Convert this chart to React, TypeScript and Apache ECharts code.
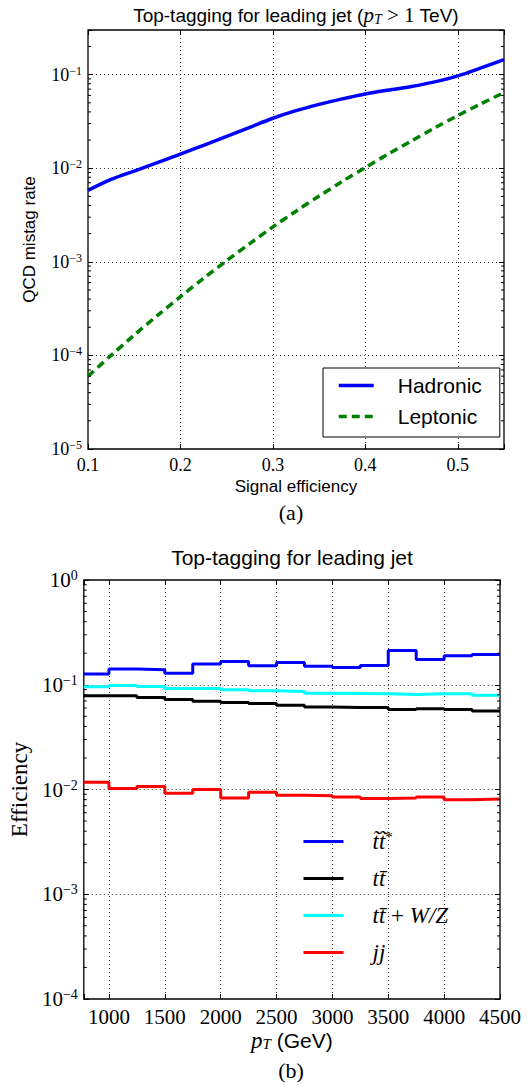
import React, { useEffect, useRef } from 'react';
import * as echarts from 'echarts';

// ---------- Data: panel (a) ----------
const signalEff = [0.1, 0.125, 0.15, 0.175, 0.2, 0.225, 0.25, 0.275, 0.3, 0.325, 0.35, 0.375, 0.4, 0.425, 0.45, 0.475, 0.5, 0.525, 0.55];
const hadronic = [0.0058, 0.00759, 0.00933, 0.01148, 0.01419, 0.01758, 0.02188, 0.02735, 0.0342, 0.0412, 0.0481, 0.0551, 0.0621, 0.0684, 0.0748, 0.0838, 0.0971, 0.118, 0.145];
const leptonic = [0.00006, 0.0001, 0.0001652, 0.0002667, 0.0004246, 0.0006653, 0.00103, 0.001567, 0.00236, 0.003475, 0.005047, 0.007211, 0.01019, 0.01422, 0.01963, 0.02692, 0.03656, 0.04875, 0.06427];

// ---------- Data: panel (b) ----------
const ptEdges = [775, 1000, 1250, 1500, 1750, 2000, 2250, 2500, 2750, 3000, 3250, 3500, 3750, 4000, 4250, 4500];
const stopPair = [0.127, 0.141, 0.139, 0.129, 0.158, 0.167, 0.152, 0.163, 0.15, 0.146, 0.153, 0.212, 0.174, 0.189, 0.194];
const ttbar = [0.0784, 0.0784, 0.0755, 0.0723, 0.0697, 0.0676, 0.0662, 0.0637, 0.0614, 0.0606, 0.0606, 0.058, 0.059, 0.058, 0.0562];
const ttbarWZ = [0.0957, 0.0986, 0.096, 0.092, 0.092, 0.0895, 0.0876, 0.0863, 0.083, 0.0826, 0.082, 0.0808, 0.082, 0.082, 0.0796];
const dijet = [0.0117, 0.0102, 0.0107, 0.0092, 0.01, 0.0083, 0.0094, 0.0088, 0.0087, 0.0085, 0.0082, 0.0083, 0.0085, 0.008, 0.0081];

const legendA = ['Hadronic', 'Leptonic'];
const legendB = ['t\u0303t\u0303*', 'tt\u0304', 'tt\u0304 + W/Z', 'jj'];

// axis ranges
const aXMin = 0.1, aXMax = 0.55, aXStep = 0.1;
const aYMin = 1e-5, aYMax = 0.3;
const bXMin = 775, bXMax = 4500;
const bYMin = 1e-4, bYMax = 1;

// minor tick values (2..9 x 10^k) for the log axes
const minorTicks = (lo: number, hi: number) => {
  const out: number[] = [];
  for (let e = Math.round(Math.log10(lo)); e <= 0; e++) {
    for (let m = 2; m <= 9; m++) {
      const v = m * Math.pow(10, e);
      if (v > lo && v < hi) out.push(v);
    }
  }
  return out;
};
const aMinor = minorTicks(aYMin, aYMax);
const bMinor = minorTicks(bYMin, bYMax);

const SANS = '"Liberation Sans", Arial, Helvetica, sans-serif';
const SERIF = '"Liberation Serif", "Times New Roman", serif';

const stepData = (vals: number[]) => ptEdges.map((e, i) => [e, vals[Math.min(i, vals.length - 1)]]);

const powLabel = (size: number, supSize: number, supLH: number) => ({
  formatter: (v: number) => {
    const e = Math.log10(v);
    const r = Math.round(e);
    if (Math.abs(e - r) > 1e-6) return '';
    return `{b|10}{s|${r < 0 ? '\u2212' + -r : r}}`;
  },
  rich: {
    b: { fontFamily: SERIF, fontSize: size, lineHeight: size + 2, color: '#000' },
    s: { fontFamily: SERIF, fontSize: supSize, lineHeight: supLH, verticalAlign: 'top', color: '#000' },
  },
});

const gridLine = { show: true, showMinLine: false, showMaxLine: false, lineStyle: { color: '#000', width: 0.8, type: [1, 3] } };
const tickInside = { show: true, inside: true, length: 5, lineStyle: { color: '#000', width: 1 } };

const minorSeries = (vals: number[], xv: number, xi: number, yi: number) => ({
  type: 'custom',
  xAxisIndex: xi,
  yAxisIndex: yi,
  silent: true,
  clip: false,
  z: 5,
  data: vals.map((v) => [xv, v]),
  renderItem: (params: any, api: any) => {
    const cs = params.coordSys;
    const y = api.coord([api.value(0), api.value(1)])[1];
    const len = 3;
    const st = { stroke: '#000', lineWidth: 1 };
    return {
      type: 'group',
      children: [
        { type: 'line', shape: { x1: cs.x, y1: y, x2: cs.x + len, y2: y }, style: st },
        { type: 'line', shape: { x1: cs.x + cs.width - len, y1: y, x2: cs.x + cs.width, y2: y }, style: st },
      ],
    };
  },
});

export default function App() {
  const ref = useRef<HTMLDivElement>(null);
  useEffect(() => {
    if (!ref.current) return;
    const chart = echarts.init(ref.current, undefined, { renderer: 'svg' });
    const option: any = {
      animation: false,
      backgroundColor: '#fff',
      grid: [
        { left: 88, top: 30, width: 416, height: 419, show: true, borderColor: '#000', borderWidth: 1.3, backgroundColor: 'transparent' },
        { left: 83, top: 580, width: 417, height: 419, show: true, borderColor: '#000', borderWidth: 1.3, backgroundColor: 'transparent' },
      ],
      xAxis: [
        {
          type: 'value', gridIndex: 0, position: 'bottom', min: aXMin, max: aXMax, interval: aXStep,
          axisLine: { show: false }, axisTick: tickInside, splitLine: gridLine,
          axisLabel: {
            margin: 7, color: '#000', fontFamily: SERIF, fontSize: 18,
            formatter: (v: number) => {
              const r = Math.round(v * 10) / 10;
              return Math.abs(v - r) < 1e-9 && v < 0.54 ? r.toFixed(1) : '';
            },
          },
          name: 'Signal efficiency', nameLocation: 'middle', nameGap: 29,
          nameTextStyle: { fontFamily: SANS, fontSize: 17, color: '#000' },
        },
        {
          type: 'value', gridIndex: 0, position: 'top', min: aXMin, max: aXMax, interval: aXStep,
          axisLine: { show: false }, axisTick: tickInside, splitLine: { show: false }, axisLabel: { show: false },
        },
        {
          type: 'value', gridIndex: 1, position: 'bottom', min: bXMin, max: bXMax, splitNumber: 7,
          axisLine: { show: false }, axisTick: tickInside, splitLine: gridLine,
          axisLabel: {
            margin: 7, color: '#000', fontFamily: SERIF, fontSize: 21,
            formatter: (v: number) => (Math.abs(v % 500) < 1e-6 ? String(v) : ''),
          },
          name: '{m|p}{sub|T}{a| (GeV)}', nameLocation: 'middle', nameGap: 30,
          nameTextStyle: {
            rich: {
              m: { fontFamily: SERIF, fontStyle: 'italic', fontSize: 23, lineHeight: 22, color: '#000' },
              sub: { fontFamily: SERIF, fontStyle: 'italic', fontSize: 15, lineHeight: 14, verticalAlign: 'bottom', color: '#000' },
              a: { fontFamily: SANS, fontSize: 21, lineHeight: 22, color: '#000' },
            },
          },
        },
        {
          type: 'value', gridIndex: 1, position: 'top', min: bXMin, max: bXMax, splitNumber: 7,
          axisLine: { show: false }, axisTick: tickInside, splitLine: { show: false }, axisLabel: { show: false },
        },
      ],
      yAxis: [
        {
          type: 'log', logBase: 10, gridIndex: 0, position: 'left', min: aYMin, max: aYMax,
          axisLine: { show: false }, axisTick: tickInside, splitLine: gridLine,
          axisLabel: { margin: 6, ...powLabel(18, 12, 15) },
          name: 'QCD mistag rate', nameLocation: 'middle', nameGap: 50,
          nameTextStyle: { fontFamily: SANS, fontSize: 17, color: '#000' },
        },
        {
          type: 'log', logBase: 10, gridIndex: 0, position: 'right', min: aYMin, max: aYMax,
          axisLine: { show: false }, axisTick: tickInside, splitLine: { show: false }, axisLabel: { show: false },
        },
        {
          type: 'log', logBase: 10, gridIndex: 1, position: 'left', min: bYMin, max: bYMax,
          axisLine: { show: false }, axisTick: tickInside, splitLine: gridLine,
          axisLabel: { margin: 6, ...powLabel(21, 14, 17) },
          name: 'Efficiency', nameLocation: 'middle', nameGap: 49,
          nameTextStyle: { fontFamily: SERIF, fontSize: 23, color: '#000' },
        },
        {
          type: 'log', logBase: 10, gridIndex: 1, position: 'right', min: bYMin, max: bYMax,
          axisLine: { show: false }, axisTick: tickInside, splitLine: { show: false }, axisLabel: { show: false },
        },
      ],
      legend: [
        {
          data: legendA, orient: 'vertical', left: 323, top: 368,
          padding: [7, 18, 10, 14], itemWidth: 35, itemHeight: 21, itemGap: 10,
          borderColor: '#000', borderWidth: 1, borderRadius: 0, backgroundColor: '#fff',
          lineStyle: { width: 3.5 },
          itemStyle: { opacity: 0 },
          textStyle: { fontFamily: SANS, fontSize: 21, lineHeight: 21, color: '#000', padding: [0, 0, 0, 19] },
          selectedMode: false,
        },
        {
          data: legendB, orient: 'vertical', left: 302, top: 829,
          padding: 0, itemWidth: 40, itemHeight: 25, itemGap: 14,
          lineStyle: { width: 3 },
          itemStyle: { opacity: 0 },
          formatter: (n: string) => (n === legendB[0] ? `{i|t\u0303t\u0303}{s|*}` : n === legendB[2] ? `{i|tt\u0304}{r| + }{i|W/Z}` : `{i|${n}}`),
          textStyle: {
            padding: [0, 0, 0, 24],
            rich: {
              i: { fontFamily: SERIF, fontStyle: 'italic', fontSize: 23, lineHeight: 25, color: '#000' },
              r: { fontFamily: SERIF, fontSize: 23, lineHeight: 25, color: '#000' },
              s: { fontFamily: SERIF, fontSize: 15, lineHeight: 16, verticalAlign: 'top', color: '#000' },
            },
          },
          selectedMode: false,
        },
      ],
      graphic: [
        {
          type: 'text', x: 296, y: 15,
          style: {
            text: '{a|Top-tagging for leading jet (}{m|p}{sub|T}{r| > 1}{a| TeV)}',
            textAlign: 'center', textVerticalAlign: 'middle',
            rich: {
              a: { fontFamily: SANS, fontSize: 19, lineHeight: 22, fill: '#000' },
              m: { fontFamily: SERIF, fontStyle: 'italic', fontSize: 21, lineHeight: 22, fill: '#000' },
              sub: { fontFamily: SERIF, fontStyle: 'italic', fontSize: 14, lineHeight: 14, verticalAlign: 'bottom', fill: '#000' },
              r: { fontFamily: SERIF, fontSize: 21, lineHeight: 22, fill: '#000' },
            },
          },
        },
        {
          type: 'text', x: 292, y: 557,
          style: { text: 'Top-tagging for leading jet', font: `21px ${SANS}`, fill: '#000', textAlign: 'center', textVerticalAlign: 'middle' },
        },
        {
          type: 'text', x: 291, y: 512,
          style: { text: '(a)', font: `22px ${SERIF}`, fill: '#000', textAlign: 'center', textVerticalAlign: 'middle' },
        },
        {
          type: 'text', x: 291, y: 1070,
          style: { text: '(b)', font: `22px ${SERIF}`, fill: '#000', textAlign: 'center', textVerticalAlign: 'middle' },
        },
      ],
      series: [
        {
          type: 'line', name: 'Hadronic', xAxisIndex: 0, yAxisIndex: 0, symbol: 'none', smooth: 0.3,
          data: signalEff.map((x, i) => [x, hadronic[i]]),
          lineStyle: { color: '#0000ff', width: 3.5 }, itemStyle: { color: '#0000ff' }, z: 3,
        },
        {
          type: 'line', name: 'Leptonic', xAxisIndex: 0, yAxisIndex: 0, symbol: 'none', smooth: 0.3,
          data: signalEff.map((x, i) => [x, leptonic[i]]),
          lineStyle: { color: '#008000', width: 3.5, type: [8, 5] }, itemStyle: { color: '#008000' }, z: 3,
        },
        {
          type: 'line', name: legendB[0], xAxisIndex: 2, yAxisIndex: 2, symbol: 'none', step: 'end',
          data: stepData(stopPair), lineStyle: { color: '#0000ff', width: 3 }, itemStyle: { color: '#0000ff' }, z: 3,
        },
        {
          type: 'line', name: legendB[1], xAxisIndex: 2, yAxisIndex: 2, symbol: 'none', step: 'end',
          data: stepData(ttbar), lineStyle: { color: '#000000', width: 3 }, itemStyle: { color: '#000000' }, z: 3,
        },
        {
          type: 'line', name: legendB[2], xAxisIndex: 2, yAxisIndex: 2, symbol: 'none', step: 'end',
          data: stepData(ttbarWZ), lineStyle: { color: '#00ffff', width: 3 }, itemStyle: { color: '#00ffff' }, z: 3,
        },
        {
          type: 'line', name: legendB[3], xAxisIndex: 2, yAxisIndex: 2, symbol: 'none', step: 'end',
          data: stepData(dijet), lineStyle: { color: '#ff0000', width: 3 }, itemStyle: { color: '#ff0000' }, z: 3,
        },
        minorSeries(aMinor, aXMin, 0, 0),
        minorSeries(bMinor, bXMin + 100, 2, 2),
      ],
    };
    chart.setOption(option);
    return () => chart.dispose();
  }, []);
  return <div ref={ref} style={{ position: 'fixed', left: 0, top: 0, width: 527, height: 1086 }} />;
}
